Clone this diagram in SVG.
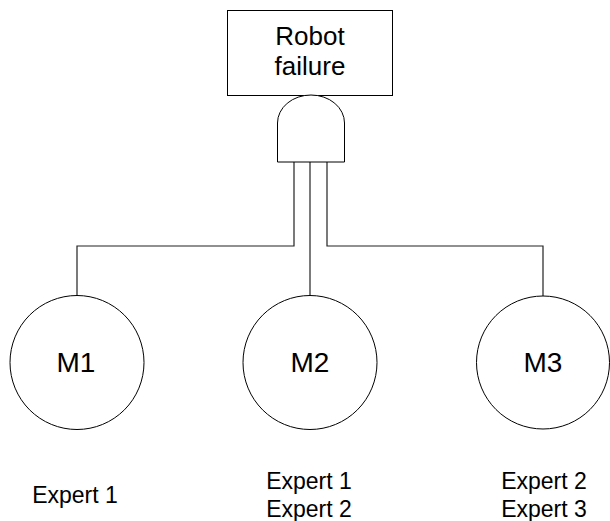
<svg xmlns="http://www.w3.org/2000/svg" width="610" height="521" viewBox="0 0 610 521">
<style>
.shape{fill:#fff;stroke:#000;stroke-width:1}
.conn{fill:none;stroke:#222;stroke-width:1.2}
text{font-family:"Liberation Sans",Arial,Helvetica,sans-serif;fill:#000;text-anchor:middle}
.big{font-size:28px}
.lbl{font-size:23px}
.top{font-size:26px}
</style>
<rect width="610" height="521" fill="#fff"/>
<g id="connectors">
<path class="conn" d="M294,162 V246 H77 V296"/>
<path class="conn" d="M310,162 V296"/>
<path class="conn" d="M327,162 V246 H543 V296"/>
</g>
<g id="robot-failure">
<rect class="shape" x="227.5" y="10.5" width="165" height="85"/>
<text class="top" x="310" y="45">Robot</text>
<text class="top" x="310" y="75">failure</text>
</g>
<g id="and-gate">
<path class="shape" d="M277.5,162 L277.5,123 A33.5,28 0 0 1 344.5,123 L344.5,162 Z"/>
</g>
<g id="M1">
<circle class="shape" cx="77" cy="362.5" r="67"/>
<text class="big" x="76" y="372">M1</text>
</g>
<g id="M2">
<circle class="shape" cx="310" cy="362.5" r="67"/>
<text class="big" x="310" y="372">M2</text>
</g>
<g id="M3">
<circle class="shape" cx="543" cy="362.5" r="66.5"/>
<text class="big" x="543" y="372">M3</text>
</g>
<g id="label-M1">
<text class="lbl" x="75" y="503">Expert 1</text>
</g>
<g id="label-M2">
<text class="lbl" x="309" y="489">Expert 1</text>
<text class="lbl" x="309" y="517">Expert 2</text>
</g>
<g id="label-M3">
<text class="lbl" x="544" y="489">Expert 2</text>
<text class="lbl" x="544" y="517">Expert 3</text>
</g>
</svg>
